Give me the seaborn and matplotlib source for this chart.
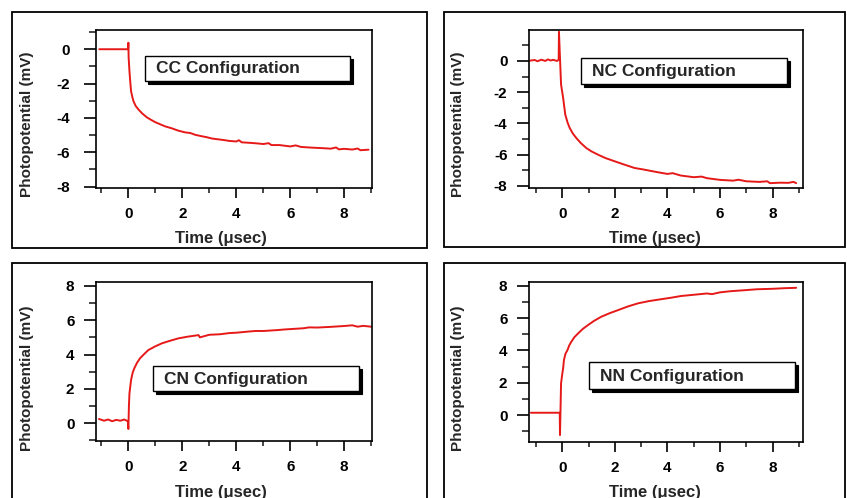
import matplotlib
matplotlib.use("Agg")
import matplotlib.pyplot as plt
import seaborn as sns
import pandas as pd
from matplotlib.patches import Rectangle
from matplotlib.ticker import MultipleLocator

# ---------------- data ----------------
cc_time = [-1.08, -0.01, 0.00, 0.01, 0.04, 0.07, 0.10, 0.15, 0.19, 0.27, 0.37, 0.50,
           0.68, 0.85, 1.00, 1.15, 1.36, 1.60, 1.85, 2.10, 2.30, 2.47, 2.70, 2.90,
           3.10, 3.30, 3.50, 3.75, 4.00, 4.10, 4.20, 4.50, 4.75, 5.00, 5.20, 5.30,
           5.60, 5.80, 6.00, 6.20, 6.40, 6.80, 7.20, 7.50, 7.70, 7.80, 8.00, 8.30,
           8.50, 8.60, 8.90]
cc_volt = [0.00, 0.00, 0.38, -0.50, -1.28, -1.90, -2.45, -2.80, -3.03, -3.30, -3.50, -3.72,
           -3.96, -4.12, -4.25, -4.35, -4.49, -4.60, -4.74, -4.84, -4.88, -4.98, -5.06, -5.12,
           -5.20, -5.24, -5.28, -5.34, -5.37, -5.30, -5.42, -5.45, -5.48, -5.52, -5.47, -5.58,
           -5.58, -5.62, -5.66, -5.60, -5.69, -5.73, -5.76, -5.79, -5.72, -5.83, -5.80, -5.84,
           -5.78, -5.88, -5.85]

nc_time = [-1.23, -1.05, -0.95, -0.80, -0.65, -0.55, -0.45, -0.35, -0.20, -0.14, -0.13,
           -0.05, 0.03, 0.11, 0.20, 0.28, 0.40, 0.53, 0.70, 0.91, 1.10, 1.36, 1.65, 1.99,
           2.30, 2.75, 3.10, 3.50, 4.00, 4.20, 4.50, 5.00, 5.30, 5.50, 6.00, 6.50, 6.70,
           7.00, 7.50, 7.80, 7.90, 8.30, 8.60, 8.80, 8.90]
nc_volt = [0.02, 0.06, -0.02, 0.08, 0.00, 0.10, 0.03, 0.07, 0.00, 0.08, 1.86,
           -1.50, -2.37, -3.43, -3.95, -4.29, -4.65, -4.93, -5.25, -5.57, -5.78, -6.00, -6.22, -6.42,
           -6.60, -6.85, -6.95, -7.08, -7.23, -7.18, -7.33, -7.44, -7.40, -7.50, -7.61, -7.66, -7.60,
           -7.70, -7.74, -7.70, -7.82, -7.79, -7.80, -7.74, -7.82]

cn_time = [-1.09, -0.90, -0.75, -0.60, -0.45, -0.30, -0.15, -0.02, 0.00, 0.02, 0.04, 0.10,
           0.16, 0.22, 0.32, 0.43, 0.58, 0.74, 1.00, 1.24, 1.50, 1.85, 2.20, 2.60, 2.65,
           3.00, 3.40, 3.75, 4.00, 4.40, 4.70, 5.00, 5.50, 5.80, 6.00, 6.50, 6.70, 7.00,
           7.50, 8.00, 8.30, 8.50, 8.70, 9.00]
cn_volt = [0.25, 0.15, 0.22, 0.12, 0.20, 0.15, 0.22, 0.12, -0.33, 1.00, 1.74, 2.52,
           2.95, 3.20, 3.52, 3.78, 4.02, 4.26, 4.48, 4.65, 4.78, 4.94, 5.04, 5.13, 5.00,
           5.15, 5.18, 5.25, 5.27, 5.33, 5.37, 5.37, 5.42, 5.46, 5.48, 5.53, 5.58, 5.57,
           5.61, 5.66, 5.70, 5.62, 5.67, 5.62]

nn_time = [-1.20, -0.10, -0.09, -0.05, 0.00, 0.03, 0.06, 0.12, 0.19, 0.26, 0.34, 0.46,
           0.60, 0.78, 0.98, 1.20, 1.48, 1.80, 2.12, 2.50, 2.88, 3.30, 3.70, 4.15, 4.50,
           5.00, 5.50, 5.70, 6.00, 6.40, 7.00, 7.40, 8.00, 8.50, 8.90]
nn_volt = [0.14, 0.14, -1.24, 1.96, 2.58, 2.90, 3.40, 3.80, 4.00, 4.30, 4.53, 4.82,
           5.05, 5.33, 5.57, 5.82, 6.08, 6.30, 6.49, 6.72, 6.91, 7.05, 7.15, 7.26, 7.36,
           7.44, 7.52, 7.48, 7.59, 7.66, 7.73, 7.78, 7.81, 7.85, 7.87]

configs = ["CC Configuration", "NC Configuration", "CN Configuration", "NN Configuration"]
x_label = "Time (\u03bcsec)"
y_label = "Photopotential (mV)"

# ---------------- style ----------------
sns.set_style("ticks")
plt.rcParams['font.family'] = ['Liberation Sans', 'DejaVu Sans']
plt.rcParams['font.weight'] = 'bold'
plt.rcParams['axes.linewidth'] = 1.2
plt.rcParams['axes.unicode_minus'] = False

W, H = 847, 498
fig = plt.figure(figsize=(W / 100, H / 100), dpi=100)
fig.patch.set_facecolor('white')
RED = '#e61919'


def fig_rect(l, t, r, b):
    return [l / W, 1 - b / H, (r - l) / W, (b - t) / H]


panels = [
    dict(t=cc_time, v=cc_volt, name=configs[0], ax=(96, 30, 372, 188), xlim=(-1.2, 9.03),
         ylim=(-8.08, 1.12), frame=(12, 12, 427, 248), box=(145, 56, 350, 81),
         ylab=(27, 124), xlab=(221, 238), ypad=10),
    dict(t=nc_time, v=nc_volt, name=configs[1], ax=(529, 30, 803, 188), xlim=(-1.27, 9.16),
         ylim=(-8.13, 1.98), frame=(444, 12, 845, 247), box=(581, 58, 787, 84),
         ylab=(458, 124), xlab=(655, 238), ypad=7),
    dict(t=cn_time, v=cn_volt, name=configs[2], ax=(96, 282, 372, 441), xlim=(-1.2, 9.03),
         ylim=(-1.03, 8.22), frame=(12, 263, 427, 520), box=(153, 366, 359, 391),
         ylab=(27, 378), xlab=(221, 492), ypad=7),
    dict(t=nn_time, v=nn_volt, name=configs[3], ax=(529, 282, 803, 442), xlim=(-1.27, 9.16),
         ylim=(-1.67, 8.23), frame=(444, 263, 845, 520), box=(589, 362, 795, 389),
         ylab=(458, 378), xlab=(655, 492), ypad=7),
]

for p in panels:
    # outer frame
    l, t, r, b = p['frame']
    fig.patches.append(Rectangle((l / W, 1 - b / H), (r - l) / W, (b - t) / H,
                                 transform=fig.transFigure, fill=False,
                                 edgecolor='black', linewidth=1.3, zorder=0))
    ax = fig.add_axes(fig_rect(*p['ax']))
    df = pd.DataFrame({'t': p['t'], 'v': p['v']})
    sns.lineplot(data=df, x='t', y='v', estimator=None, sort=False, color=RED,
                 linewidth=1.4, ax=ax)
    ax.set_xlim(*p['xlim'])
    ax.set_ylim(*p['ylim'])
    ax.set_xlabel('')
    ax.set_ylabel('')
    ax.xaxis.set_major_locator(MultipleLocator(2))
    ax.xaxis.set_minor_locator(MultipleLocator(1))
    ax.yaxis.set_major_locator(MultipleLocator(2))
    ax.yaxis.set_minor_locator(MultipleLocator(1))
    for s in ax.spines.values():
        s.set_visible(True)
        s.set_linewidth(1.2)
        s.set_color('black')
    ax.tick_params(axis='x', which='major', length=7, width=1.2, direction='out',
                   labelsize=11, pad=7, colors='black')
    ax.tick_params(axis='x', which='minor', length=3.6, width=1.2, direction='out')
    ax.tick_params(axis='y', which='major', length=8.5, width=1.2, direction='out',
                   labelsize=11, pad=p['ypad'], colors='black')
    ax.tick_params(axis='y', which='minor', length=5, width=1.2, direction='out')
    for lab in ax.get_xticklabels() + ax.get_yticklabels():
        lab.set_fontweight('bold')

    # configuration box with drop shadow
    bl, bt, br, bb = p['box']
    sh = 3
    fig.patches.append(Rectangle(((bl + sh) / W, 1 - (bb + sh) / H), (br - bl) / W, (bb - bt) / H,
                                 transform=fig.transFigure, facecolor='black',
                                 edgecolor='black', linewidth=0.8, zorder=5))
    fig.patches.append(Rectangle((bl / W, 1 - bb / H), (br - bl) / W, (bb - bt) / H,
                                 transform=fig.transFigure, facecolor='white',
                                 edgecolor='black', linewidth=1.0, zorder=6))
    fig.text((bl + 11) / W, 1 - ((bt + bb) / 2 + 0.5) / H, p['name'], ha='left', va='center',
             fontsize=12.5, fontweight='bold', zorder=7)

    # axis labels
    fig.text(p['ylab'][0] / W, 1 - p['ylab'][1] / H, y_label, rotation=90,
             ha='center', va='center', fontsize=11, fontweight='bold')
    fig.text(p['xlab'][0] / W, 1 - p['xlab'][1] / H, x_label,
             ha='center', va='center', fontsize=12, fontweight='bold')

fig.savefig("out.png", dpi=100, facecolor='white')
